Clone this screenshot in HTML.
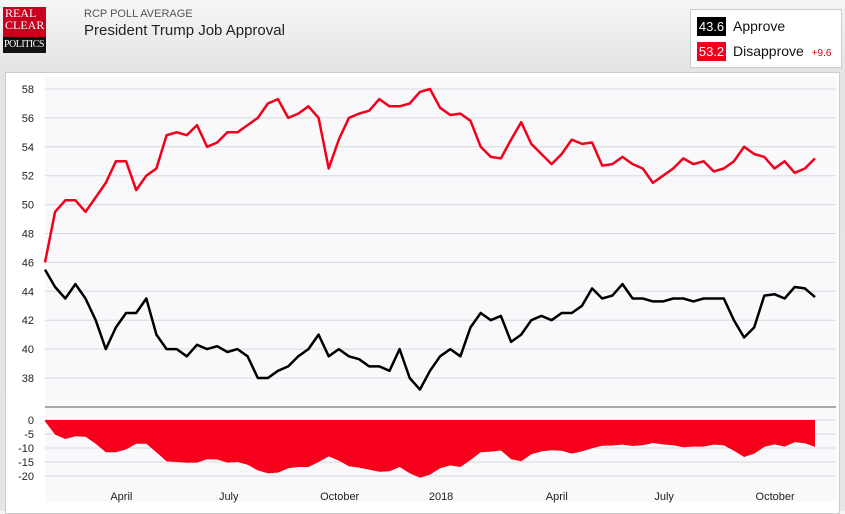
<!DOCTYPE html>
<html><head><meta charset="utf-8"><style>
body{margin:0;width:845px;height:511px;overflow:hidden;background:linear-gradient(#f6f6f6,#e4e4e4 70px,#e6e6e6);font-family:"Liberation Sans",sans-serif;position:relative}
.logo{position:absolute;left:3px;top:7px;width:43px;height:46px;background:#c8001e;color:#fff;font-family:"Liberation Serif",serif;font-size:12px;line-height:12px;padding-left:2px;box-sizing:border-box;overflow:hidden}
.logo .p{position:absolute;left:0;top:30px;width:43px;height:16px;background:#111;padding-left:1px;font-size:10px;line-height:16px;letter-spacing:-0.5px}
.t1{position:absolute;left:84px;top:8px;font-size:11px;color:#555}
.t2{position:absolute;left:84px;top:22px;font-size:15px;color:#222}
.leg{position:absolute;left:690px;top:9px;width:150px;height:57px;background:#fff;border:1px solid #ccc}
.box{position:absolute;left:6px;width:29px;height:19px;color:#fff;font-size:13px;line-height:19px;text-align:center}
.lt{position:absolute;left:42px;font-size:14px;color:#111}
.panel{position:absolute;left:5px;top:72px;width:833px;height:440px;background:#fff;border:1px solid #ccc}
</style></head><body>
<div class="logo">REAL<br>CLEAR<div class="p">POLITICS</div></div>
<div class="t1">RCP POLL AVERAGE</div>
<div class="t2">President Trump Job Approval</div>
<div class="leg">
<div class="box" style="top:7px;background:#000">43.6</div>
<div class="lt" style="top:8px">Approve</div>
<div class="box" style="top:32px;background:#f2001b">53.2</div>
<div class="lt" style="top:33px">Disapprove <span style="color:#e0001b;font-size:10px;margin-left:4px">+9.6</span></div>
</div>
<div class="panel"></div>
<svg id="c" width="845" height="511" style="position:absolute;left:0;top:0"></svg>
<script>
const approve=[45.5,44.3,43.5,44.5,43.5,42,40,41.5,42.5,42.5,43.5,41,40,40,39.5,40.3,40,40.2,39.8,40,39.5,38,38,38.5,38.8,39.5,40,41,39.5,40,39.5,39.3,38.8,38.8,38.5,40,38,37.2,38.5,39.5,40,39.5,41.5,42.5,42,42.3,40.5,41,42,42.3,42,42.5,42.5,43,44.2,43.5,43.7,44.5,43.5,43.5,43.3,43.3,43.5,43.5,43.3,43.5,43.5,43.5,42,40.8,41.5,43.7,43.8,43.5,44.3,44.2,43.6];
const disapprove=[46,49.5,50.3,50.3,49.5,50.5,51.5,53,53,51,52,52.5,54.8,55,54.8,55.5,54,54.3,55,55,55.5,56,57,57.3,56,56.3,56.8,56,52.5,54.5,56,56.3,56.5,57.3,56.8,56.8,57,57.8,58,56.7,56.2,56.3,55.8,54,53.3,53.2,54.5,55.7,54.2,53.5,52.8,53.5,54.5,54.2,54.3,52.7,52.8,53.3,52.8,52.5,51.5,52,52.5,53.2,52.8,53,52.3,52.5,53,54,53.5,53.3,52.5,53,52.2,52.5,53.2];
const mainTicks=[58,56,54,52,50,48,46,44,42,40,38];
const spreadTicks=[0,-5,-10,-15,-20];
const monthLabels=["April","July","October","2018","April","July","October"];
const monthPos=[64,154,247,332,429,519,612]; // days from start
const s=document.getElementById('c'),NS='http://www.w3.org/2000/svg';
function el(t,a,p){const e=document.createElementNS(NS,t);for(const k in a)e.setAttribute(k,a[k]);(p||s).appendChild(e);return e;}
const n=approve.length;
const x=i=>45+i*(770/(n-1));
const xd=d=>45+d*1.193;
const y=v=>89+(58-v)*14.45;
const ys=v=>420-v*2.8;
const bg=el('rect',{x:45,y:77,width:791,height:425,fill:'#f9f9fc'});


mainTicks.forEach(t=>{
 const l=el('line',{x1:45,x2:836,y1:y(t),y2:y(t),stroke:'#d8d8de','stroke-width':1});
 
 
 const tx=el('text',{x:34,y:y(t)+4,'text-anchor':'end','font-size':11,fill:'#222'});tx.textContent=t;
 
 
});
const sep=el('line',{x1:45,x2:836,y1:407,y2:407,stroke:'#aaa','stroke-width':2});


spreadTicks.forEach(t=>{
 const l=el('line',{x1:45,x2:836,y1:ys(t),y2:ys(t),stroke:'#d8d8de','stroke-width':1});
 
 
 const tx=el('text',{x:34,y:ys(t)+4,'text-anchor':'end','font-size':11,fill:'#222'});tx.textContent=t;
 
 
});
let d='M'+x(0)+','+ys(0);
approve.forEach((a,i)=>{d+=' L'+x(i).toFixed(1)+','+ys(a-disapprove[i]).toFixed(1);});
d+=' L'+x(n-1)+','+ys(0)+'Z';
const ar=el('path',{d:d,fill:'#f6001b'});


function line(arr,c,name){
 const p=el('path',{d:arr.map((v,i)=>(i?'L':'M')+x(i).toFixed(1)+','+y(v).toFixed(1)).join(' '),fill:'none',stroke:c,'stroke-width':2.5,'stroke-linejoin':'round'});
 
 
}
line(disapprove,'#f2001b','disapprove-line');
line(approve,'#000','approve-line');
monthLabels.forEach((m,i)=>{
 const tx=el('text',{x:xd(monthPos[i]),y:500,'text-anchor':'middle','font-size':11,fill:'#222'});tx.textContent=m;
 
 
});
</script>
</body></html>
